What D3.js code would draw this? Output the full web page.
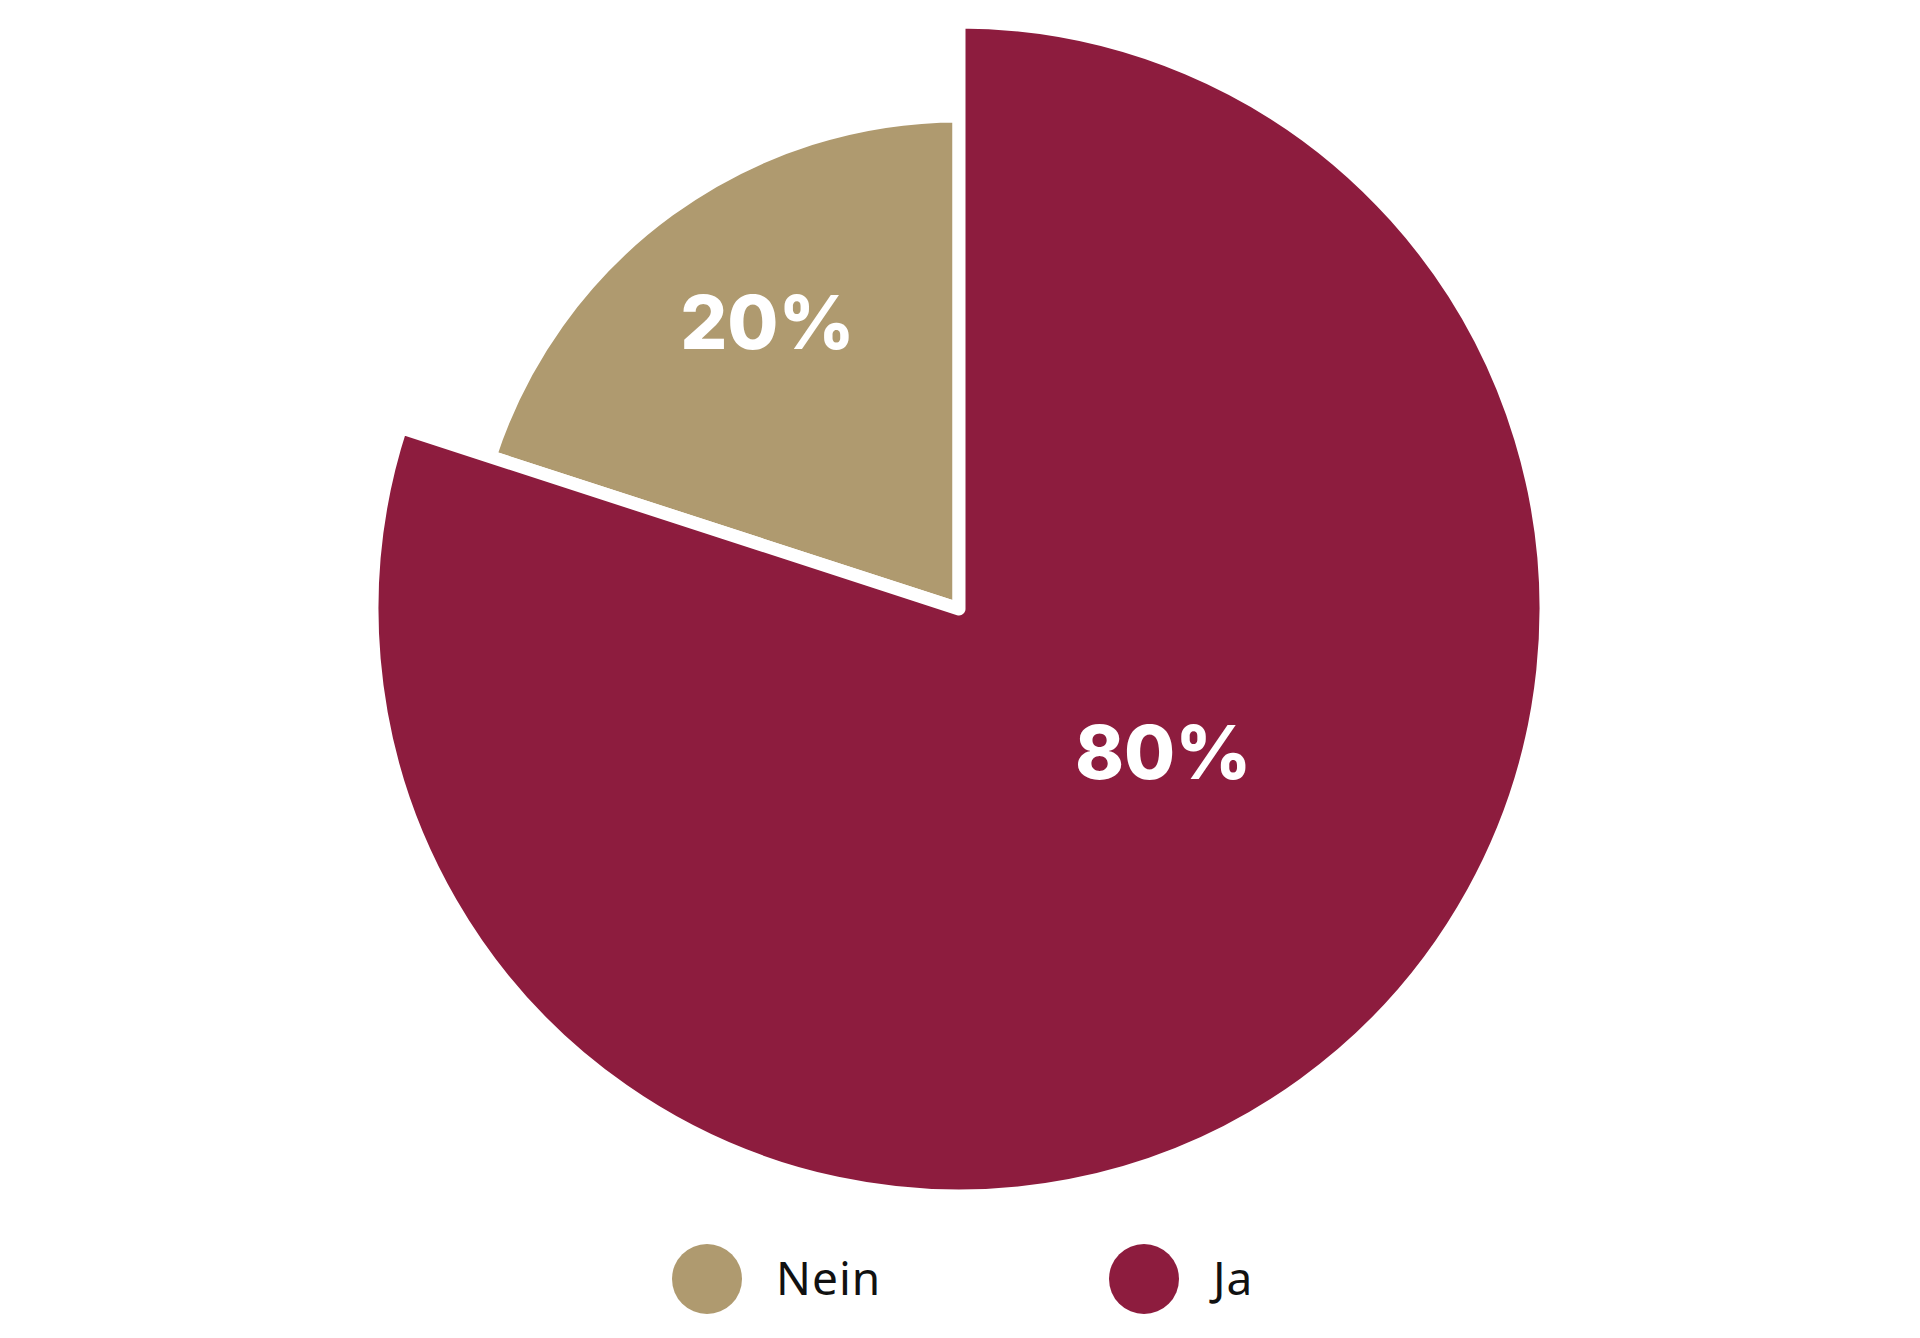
<!DOCTYPE html>
<html>
<head>
<meta charset="utf-8">
<script src="https://cdn.jsdelivr.net/npm/d3@7"></script>
<style>
  body { margin: 0; background: #fff; }
  .label { font-family: "Inter", sans-serif; font-weight: 800; fill: #fff; }
  .legend text { font-family: "Noto Sans", sans-serif; font-size: 46px; fill: #111; letter-spacing: 1px; }
</style>
</head>
<body>
<div class="chart"></div>
<script>
// data
const categories = ["Nein", "Ja"];
const values = [20, 80];
const labels = ["20%", "80%"];
const colors = ["#af9a6f", "#8d1c3e"];
// each slice has its own radius (share of full radius)
const radiusShare = [0.84, 1];

const width = 1920, height = 1338;
const cx = 959, cy = 609, R = 587;

const svg = d3.select(".chart").append("svg")
    .attr("width", width)
    .attr("height", height);

const g = svg.append("g").attr("transform", `translate(${cx},${cy})`);

// Nein goes counter clockwise from 12 o'clock, Ja the rest
const pie = d3.pie()
    .sort(null)
    .value(d => d)
    .startAngle(-2 * Math.PI * values[0] / d3.sum(values))
    .endAngle(2 * Math.PI - 2 * Math.PI * values[0] / d3.sum(values));

const arcs = pie(values);

const arc = d3.arc()
    .innerRadius(0)
    .outerRadius((d, i) => R * radiusShare[i]);

g.selectAll("path")
    .data(arcs)
    .enter()
    .append("path")
    .attr("d", (d, i) => arc(d, i))
    .attr("fill", (d, i) => colors[i])
    .attr("stroke", "#fff")
    .attr("stroke-width", 13)
    .attr("stroke-linejoin", "round");

// labels - radius fraction and small angle shift to sit like the original
const labelR = [0.70, 0.425];
const labelShift = [0.04, -0.33];
g.selectAll("text.label")
    .data(arcs)
    .enter()
    .append("text")
    .attr("class", "label")
    .attr("text-anchor", "middle")
    .attr("dominant-baseline", "central")
    .attr("font-size", 74)
    .attr("transform", (d, i) => {
        let a = (d.startAngle + d.endAngle) / 2 + labelShift[i];
        let r = R * radiusShare[i] * labelR[i];
        return `translate(${r * Math.sin(a)},${-r * Math.cos(a)})`;
    })
    .text((d, i) => labels[i]);

// legend
const legendX = d3.scalePoint().domain(categories).range([707, 1144]);
const legend = svg.append("g").attr("class", "legend")
    .selectAll("g")
    .data(categories)
    .enter()
    .append("g")
    .attr("transform", d => `translate(${legendX(d)},1279)`);

legend.append("circle")
    .attr("r", 35)
    .attr("fill", (d, i) => colors[i]);

legend.append("text")
    .attr("x", 69)
    .attr("dy", "0.35em")
    .text(d => d);
</script>
</body>
</html>
